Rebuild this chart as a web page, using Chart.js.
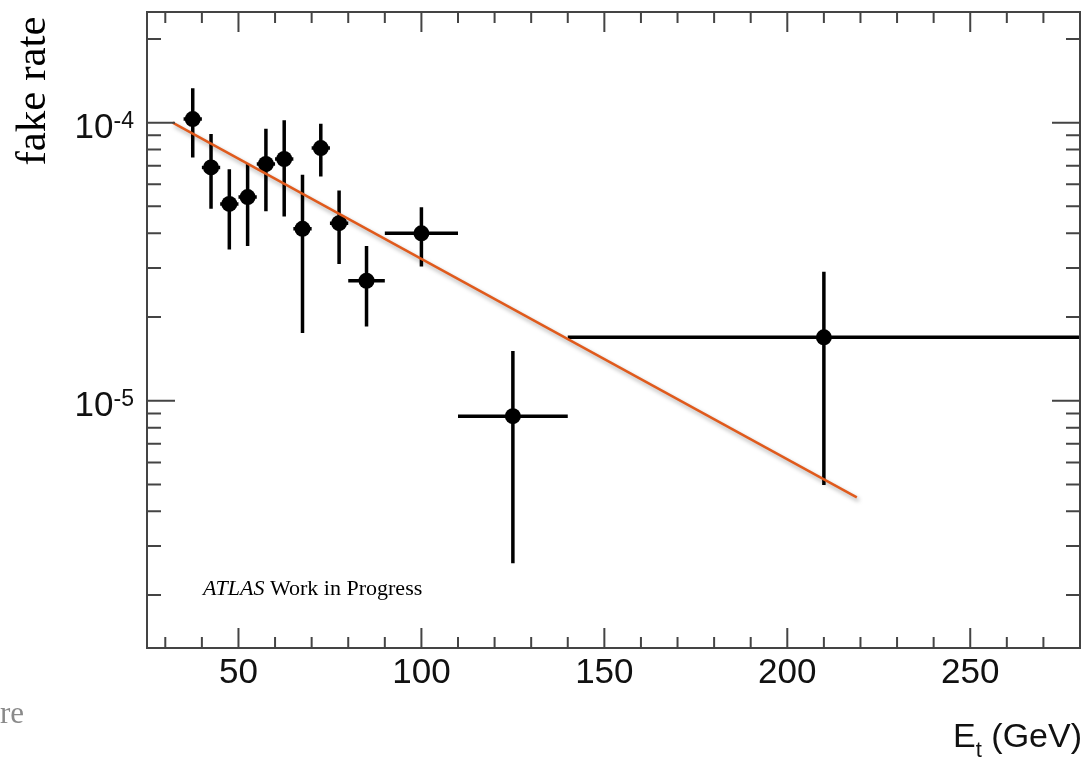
<!DOCTYPE html>
<html>
<head>
<meta charset="utf-8">
<script src="https://cdn.jsdelivr.net/npm/chart.js@4.4.1/dist/chart.umd.min.js"></script>
<style>
  html, body { margin: 0; padding: 0; background: #fff; }
  #wrap { width: 1088px; height: 759px; position: relative; }
</style>
</head>
<body>
<div id="wrap"><canvas id="chart" width="1088" height="759"></canvas></div>
<script>
// measured fake rate per Et bin
const binCenter = [37.5, 42.5, 47.5, 52.5, 57.5, 62.5, 67.5, 72.5, 77.5, 85, 100, 125, 210];
const binLow    = [35, 40, 45, 50, 55, 60, 65, 70, 75, 80, 90, 110, 140];
const binHigh   = [40, 45, 50, 55, 60, 65, 70, 75, 80, 90, 110, 140, 280];
const fakeRate  = [1.03e-4, 6.9e-5, 5.1e-5, 5.4e-5, 7.1e-5, 7.4e-5, 4.15e-5, 8.1e-5, 4.35e-5, 2.7e-5, 4.0e-5, 8.8e-6, 1.69e-5];
const rateLow   = [7.5e-5, 4.9e-5, 3.5e-5, 3.6e-5, 4.8e-5, 4.6e-5, 1.75e-5, 6.4e-5, 3.1e-5, 1.85e-5, 3.04e-5, 2.6e-6, 4.98e-6];
const rateHigh  = [1.33e-4, 9.1e-5, 6.8e-5, 7.1e-5, 9.5e-5, 1.02e-4, 6.5e-5, 9.9e-5, 5.7e-5, 3.6e-5, 4.96e-5, 1.51e-5, 2.91e-5];

// exponential fit (straight on log scale)
const fitX = [32, 219];
const fitY = [1.0e-4, 4.49e-6];

// axis ticks
const xMajorTicks = [50, 100, 150, 200, 250];
const xTickLabels = ['50', '100', '150', '200', '250'];
const xMinorTicks = [30, 40, 60, 70, 80, 90, 110, 120, 130, 140, 160, 170, 180, 190, 210, 220, 230, 240, 260, 270];
const yMajorTicks = [1e-5, 1e-4];
const yTickExp = ['-5', '-4'];
const yMinorTicks = [2e-6, 3e-6, 4e-6, 5e-6, 6e-6, 7e-6, 8e-6, 9e-6,
                     2e-5, 3e-5, 4e-5, 5e-5, 6e-5, 7e-5, 8e-5, 9e-5, 2e-4];

const SANS = '"Liberation Sans", Arial, Helvetica, sans-serif';
const SERIF = '"Liberation Serif", "Times New Roman", serif';

const errorBars = {
  id: 'errorBars',
  beforeDatasetsDraw(chart) {
    const {ctx, chartArea: a, scales: {x, y}} = chart;
    ctx.save();
    ctx.beginPath();
    ctx.rect(a.left, a.top, a.right - a.left, a.bottom - a.top);
    ctx.clip();
    ctx.strokeStyle = '#000';
    ctx.lineWidth = 3.5;
    ctx.beginPath();
    for (let i = 0; i < binCenter.length; i++) {
      const px = x.getPixelForValue(binCenter[i]);
      const py = y.getPixelForValue(fakeRate[i]);
      ctx.moveTo(x.getPixelForValue(binLow[i]), py);
      ctx.lineTo(x.getPixelForValue(binHigh[i]), py);
      ctx.moveTo(px, y.getPixelForValue(rateLow[i]));
      ctx.lineTo(px, y.getPixelForValue(rateHigh[i]));
    }
    ctx.stroke();
    ctx.restore();
  }
};

const fitShadow = {
  id: 'fitShadow',
  beforeDatasetDraw(chart, args) {
    if (args.index !== 0) return;
    const ctx = chart.ctx;
    ctx.save();
    ctx.shadowColor = 'rgba(0,0,0,0.35)';
    ctx.shadowBlur = 4;
    ctx.shadowOffsetX = 2;
    ctx.shadowOffsetY = 3;
  },
  afterDatasetDraw(chart, args) {
    if (args.index !== 0) return;
    chart.ctx.restore();
  }
};

const frame = {
  id: 'frame',
  afterDraw(chart) {
    const {ctx, chartArea: a, scales: {x, y}} = chart;
    ctx.save();
    ctx.strokeStyle = '#444';
    ctx.lineWidth = 2;
    ctx.strokeRect(a.left, a.top, a.right - a.left, a.bottom - a.top);

    ctx.beginPath();
    xMajorTicks.forEach(v => {
      const px = x.getPixelForValue(v);
      ctx.moveTo(px, a.bottom); ctx.lineTo(px, a.bottom - 20);
      ctx.moveTo(px, a.top); ctx.lineTo(px, a.top + 20);
    });
    xMinorTicks.forEach(v => {
      const px = x.getPixelForValue(v);
      ctx.moveTo(px, a.bottom); ctx.lineTo(px, a.bottom - 11);
      ctx.moveTo(px, a.top); ctx.lineTo(px, a.top + 11);
    });
    yMajorTicks.forEach(v => {
      const py = y.getPixelForValue(v);
      ctx.moveTo(a.left, py); ctx.lineTo(a.left + 28, py);
      ctx.moveTo(a.right, py); ctx.lineTo(a.right - 28, py);
    });
    yMinorTicks.forEach(v => {
      const py = y.getPixelForValue(v);
      ctx.moveTo(a.left, py); ctx.lineTo(a.left + 14, py);
      ctx.moveTo(a.right, py); ctx.lineTo(a.right - 14, py);
    });
    ctx.stroke();

    ctx.fillStyle = '#111';
    // x tick labels
    ctx.font = '35px ' + SANS;
    ctx.textAlign = 'center';
    ctx.textBaseline = 'alphabetic';
    xMajorTicks.forEach((v, i) => {
      ctx.fillText(xTickLabels[i], x.getPixelForValue(v), a.bottom + 35);
    });

    // y tick labels 10^n
    yMajorTicks.forEach((v, i) => {
      const py = y.getPixelForValue(v);
      ctx.textAlign = 'right';
      ctx.font = '23px ' + SANS;
      const supW = ctx.measureText(yTickExp[i]).width;
      ctx.fillText(yTickExp[i], 134, py + 5);
      ctx.font = '35px ' + SANS;
      ctx.fillText('10', 134 - supW, py + 15);
    });

    // x axis title E_t (GeV)
    ctx.textAlign = 'left';
    ctx.font = '34px ' + SANS;
    const rest = ' (GeV)';
    const restW = ctx.measureText(rest).width;
    const eW = ctx.measureText('E').width;
    ctx.font = '22px ' + SANS;
    const tW = ctx.measureText('t').width;
    let cx = 1082 - restW - tW - eW;
    ctx.font = '34px ' + SANS;
    ctx.fillText('E', cx, 747);
    cx += eW;
    ctx.font = '22px ' + SANS;
    ctx.fillText('t', cx, 757);
    cx += tW;
    ctx.font = '34px ' + SANS;
    ctx.fillText(rest, cx, 747);

    // y axis title
    ctx.fillStyle = '#000';
    ctx.save();
    ctx.translate(45, 91);
    ctx.rotate(-Math.PI / 2);
    ctx.textAlign = 'center';
    ctx.font = '43px ' + SERIF;
    ctx.fillText('fake rate', 0, 0);
    ctx.restore();

    // ATLAS label
    ctx.textAlign = 'left';
    ctx.font = 'italic 22px ' + SERIF;
    ctx.fillText('ATLAS', 203, 595);
    const w = ctx.measureText('ATLAS').width;
    ctx.font = '22px ' + SERIF;
    ctx.fillText(' Work in Progress', 203 + w, 595);

    // fragment of slide text at the left edge
    ctx.fillStyle = '#8a8a8a';
    ctx.textAlign = 'right';
    ctx.font = '31px ' + SERIF;
    ctx.fillText('re', 24, 723);
    ctx.restore();
  }
};

new Chart(document.getElementById('chart'), {
  type: 'scatter',
  data: {
    datasets: [{
      label: 'fit',
      data: fitX.map((v, i) => ({x: v, y: fitY[i]})),
      showLine: true,
      borderColor: '#e05a1c',
      borderWidth: 2.5,
      pointRadius: 0,
      fill: false
    }, {
      label: 'fake rate',
      data: binCenter.map((v, i) => ({x: v, y: fakeRate[i]})),
      backgroundColor: '#000',
      borderColor: '#000',
      borderWidth: 0,
      pointRadius: 8
    }]
  },
  options: {
    responsive: false,
    animation: false,
    layout: {padding: {left: 147, right: 5, top: 12, bottom: 111}},
    plugins: {legend: {display: false}, tooltip: {enabled: false}},
    scales: {
      x: {type: 'linear', min: 25, max: 280, display: false},
      y: {type: 'logarithmic', min: 1.29e-6, max: 2.5e-4, display: false}
    }
  },
  plugins: [errorBars, fitShadow, frame]
});
</script>
</body>
</html>
